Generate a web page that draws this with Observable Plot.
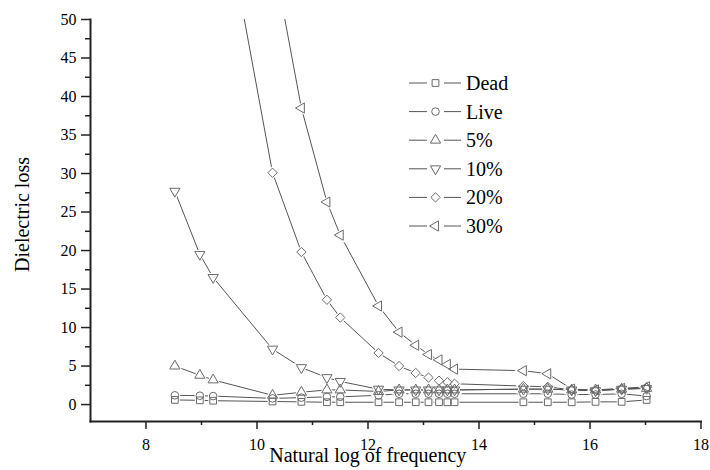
<!DOCTYPE html>
<html><head><meta charset="utf-8">
<script src="https://cdn.jsdelivr.net/npm/d3@7"></script>
<script src="https://cdn.jsdelivr.net/npm/@observablehq/plot@0.6"></script>
<style>
body{margin:0;background:#fff;}
#wrap{position:relative;width:710px;height:470px;overflow:hidden;font-family:"Liberation Serif","Times New Roman",serif;}
#legend{position:absolute;left:405px;top:70px;}
</style></head><body><div id="wrap"></div>
<script>
// Natural log of frequency (x positions of measurements)
const freqLn = [8.52, 8.97, 9.21, 10.28, 10.80, 11.26, 11.50, 12.19, 12.56, 12.86, 13.09, 13.28, 13.43, 13.56, 14.80, 15.24, 15.67, 16.10, 16.57, 17.02];
const seriesNames = ["Dead", "Live", "5%", "10%", "20%", "30%"];
const dead  = [0.6, 0.55, 0.5, 0.4, 0.35, 0.3, 0.3, 0.3, 0.3, 0.3, 0.3, 0.3, 0.3, 0.3, 0.3, 0.3, 0.3, 0.35, 0.35, 0.6];
const live  = [1.2, 1.15, 1.1, 0.8, 0.9, 1.0, 1.0, 1.2, 1.4, 1.4, 1.4, 1.4, 1.4, 1.4, 1.4, 1.4, 1.3, 1.3, 1.4, 1.1];
const pct5  = [5.0, 3.8, 3.2, 1.2, 1.6, 1.9, 1.9, 1.7, 1.9, 1.9, 1.9, 1.9, 1.9, 1.9, 2.0, 2.0, 1.9, 1.9, 2.0, 2.1];
const pct10 = [27.7, 19.5, 16.5, 7.2, 4.8, 3.5, 3.0, 2.0, 1.9, 1.9, 1.9, 1.9, 1.9, 1.9, 2.0, 2.0, 1.9, 1.8, 2.0, 2.1];
const pct20 = [null, null, 72, 30.1, 19.8, 13.6, 11.3, 6.7, 5.0, 4.1, 3.5, 3.1, 2.9, 2.7, 2.4, 2.3, 1.9, 1.8, 2.0, 2.2];
const pct30 = [null, null, null, 58.6, 38.5, 26.3, 22.0, 12.8, 9.4, 7.7, 6.5, 5.8, 5.2, 4.6, 4.4, 4.0, 2.0, 1.9, 2.1, 2.3];
const xMajorTicks = [8, 10, 12, 14, 16, 18];
const xMinorTicks = [9, 11, 13, 15, 17];
const yMajorTicks = [0, 5, 10, 15, 20, 25, 30, 35, 40, 45, 50];
const yMinorTicks = [2.5, 7.5, 12.5, 17.5, 22.5, 27.5, 32.5, 37.5, 42.5, 47.5];
const xLabel = "Natural log of frequency";
const yLabel = "Dielectric loss";

const seriesValues = [dead, live, pct5, pct10, pct20, pct30];
const symbolSpec = [
  {symbol: "square", rotate: 0, r: 3.8},
  {symbol: "circle", rotate: 0, r: 3.8},
  {symbol: "triangle", rotate: 0, r: 3.8},
  {symbol: "triangle", rotate: 180, r: 3.8},
  {symbol: "diamond2", rotate: 0, r: 4.2},
  {symbol: "triangle", rotate: 270, r: 3.8}
];
const lineColor = "#555";
const markColor = "#6a6a6a";
const axisColor = "#222";
const fontFam = "'Liberation Serif','Times New Roman',serif";

const rows = [];
seriesNames.forEach((s, k) => {
  seriesValues[k].forEach((v, i) => { if (v != null) rows.push({series: s, x: freqLn[i], y: v}); });
});

const marks = [];
marks.push(Plot.axisX({ticks: xMajorTicks, tickSize: 8, tickPadding: 9, label: null, fontSize: 16, stroke: axisColor, strokeWidth: 1.5}));
marks.push(Plot.axisX({ticks: xMinorTicks, tickSize: 4, text: null, label: null, stroke: axisColor, strokeWidth: 1.5}));
marks.push(Plot.axisY({ticks: yMajorTicks, tickSize: 9, tickPadding: 5, label: null, fontSize: 16, stroke: axisColor, strokeWidth: 1.5}));
marks.push(Plot.axisY({ticks: yMinorTicks, tickSize: 5, text: null, label: null, stroke: axisColor, strokeWidth: 1.5}));
marks.push(Plot.frame({anchor: "left", stroke: axisColor, strokeWidth: 2}));
marks.push(Plot.frame({anchor: "bottom", stroke: axisColor, strokeWidth: 2}));
seriesNames.forEach(s => {
  marks.push(Plot.line(rows.filter(d => d.series === s), {x: "x", y: "y", stroke: lineColor, strokeWidth: 1, clip: true}));
});
seriesNames.forEach((s, k) => {
  const sp = symbolSpec[k];
  marks.push(Plot.dot(rows.filter(d => d.series === s), {x: "x", y: "y", symbol: sp.symbol, rotate: sp.rotate, r: sp.r, fill: "white", stroke: "white", strokeWidth: 3, clip: true}));
});
seriesNames.forEach((s, k) => {
  const sp = symbolSpec[k];
  marks.push(Plot.dot(rows.filter(d => d.series === s), {x: "x", y: "y", symbol: sp.symbol, rotate: sp.rotate, r: sp.r, fill: "none", stroke: markColor, strokeWidth: 1, clip: true}));
});
marks.push(Plot.text([xLabel], {frameAnchor: "bottom", textAnchor: "middle", dx: -28, dy: 40, fontSize: 20, fill: "#000"}));
marks.push(Plot.text([yLabel], {frameAnchor: "left", textAnchor: "middle", rotate: -90, dx: -68, dy: -6, fontSize: 20, fill: "#000"}));

const chart = Plot.plot({
  width: 710, height: 470,
  marginLeft: 90, marginRight: 9.5, marginTop: 19, marginBottom: 49,
  x: {domain: [7, 18]},
  y: {domain: [-2.2, 50]},
  style: {fontFamily: fontFam, color: "#000", background: "#fff", overflow: "visible"},
  marks
});
const wrap = document.getElementById("wrap");
wrap.appendChild(chart);

// Legend
const lg = d3.select(wrap).append("svg").attr("id", "legend").attr("width", 140).attr("height", 175);
const symMap = {square: d3.symbolSquare, circle: d3.symbolCircle, triangle: d3.symbolTriangle, diamond2: d3.symbolDiamond2};
seriesNames.forEach((s, k) => {
  const sp = symbolSpec[k];
  const yy = 13 + k * 28.6;
  const g = lg.append("g").attr("transform", `translate(0,${yy})`);
  g.append("line").attr("x1", 4).attr("x2", 22).attr("y1", 0).attr("y2", 0).attr("stroke", lineColor);
  g.append("line").attr("x1", 39).attr("x2", 56).attr("y1", 0).attr("y2", 0).attr("stroke", lineColor);
  g.append("path").attr("d", d3.symbol(symMap[sp.symbol], Math.PI * sp.r * sp.r)())
    .attr("transform", `translate(30.5,0) rotate(${sp.rotate})`)
    .attr("fill", "none").attr("stroke", markColor);
  g.append("text").attr("x", 61).attr("y", 0).attr("dy", "0.35em").attr("font-size", 20)
    .attr("font-family", fontFam).text(s);
});
</script></body></html>
